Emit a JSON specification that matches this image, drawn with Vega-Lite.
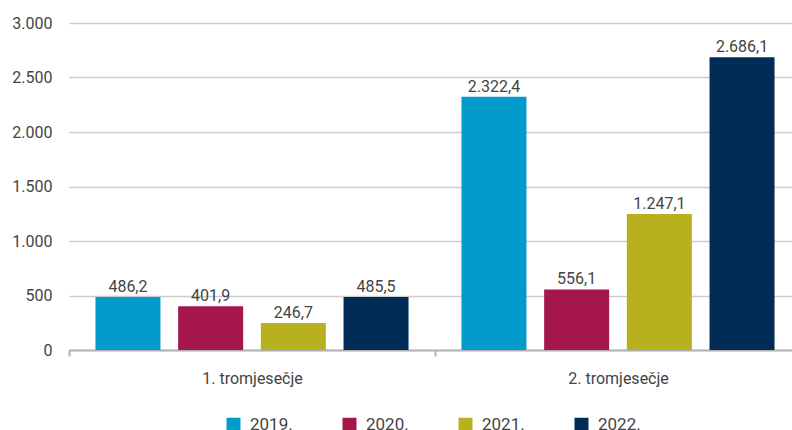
{
  "$schema": "https://vega.github.io/schema/vega-lite/v6.json",
  "width": 723,
  "height": 327,
  "autosize": {"type": "none"},
  "padding": {"left": 69, "top": 23, "right": 0, "bottom": 80},
  "background": "white",
  "config": {
    "locale": {"number": {"decimal": ",", "thousands": ".", "grouping": [3], "currency": ["", ""]}},
    "view": {"stroke": null},
    "font": "Roboto"
  },
  "data": {
    "values": [
      {"q": "1. tromjesečje", "year": "2019.", "value": 486.2},
      {"q": "1. tromjesečje", "year": "2020.", "value": 401.9},
      {"q": "1. tromjesečje", "year": "2021.", "value": 246.7},
      {"q": "1. tromjesečje", "year": "2022.", "value": 485.5},
      {"q": "2. tromjesečje", "year": "2019.", "value": 2322.4},
      {"q": "2. tromjesečje", "year": "2020.", "value": 556.1},
      {"q": "2. tromjesečje", "year": "2021.", "value": 1247.1},
      {"q": "2. tromjesečje", "year": "2022.", "value": 2686.1}
    ]
  },
  "encoding": {
    "x": {
      "field": "q", "type": "nominal",
      "scale": {"paddingInner": 0, "paddingOuter": 0, "range": [0, 732]},
      "axis": {
        "title": null, "labelAngle": 0, "labelFontSize": 16, "labelColor": "#444444",
        "labelPadding": 14, "domainColor": "#b3b3b3", "domainWidth": 2,
        "tickColor": "#b3b3b3", "tickWidth": 2, "tickSize": 6, "tickBand": "extent"
      }
    },
    "xOffset": {
      "field": "year", "type": "nominal",
      "scale": {"paddingInner": 0.214, "paddingOuter": 0.32}
    },
    "y": {
      "field": "value", "type": "quantitative",
      "scale": {"domain": [0, 3000]},
      "axis": {
        "title": null, "format": ",.0f", "values": [0, 500, 1000, 1500, 2000, 2500, 3000],
        "domain": false, "ticks": false, "labelFontSize": 16, "labelColor": "#444444",
        "labelPadding": 17, "gridColor": "#cccccc", "gridWidth": 1.5
      }
    }
  },
  "layer": [
    {
      "mark": {"type": "bar"},
      "encoding": {
        "color": {
          "field": "year", "type": "nominal",
          "scale": {"domain": ["2019.", "2020.", "2021.", "2022."], "range": ["#009bcb", "#a5164b", "#b8b11f", "#002c55"]},
          "legend": {
            "title": null, "orient": "none", "direction": "horizontal",
            "legendX": 156, "legendY": 393,
            "symbolType": "square", "symbolSize": 196, "symbolStrokeWidth": 0,
            "labelFontSize": 17, "labelColor": "#444444", "labelOffset": 8,
            "columnPadding": 48
          }
        }
      }
    },
    {
      "mark": {"type": "text", "baseline": "bottom", "dy": -2, "fontSize": 16, "color": "#444444"},
      "encoding": {
        "text": {"field": "value", "type": "quantitative", "format": ",.1f"}
      }
    }
  ]
}
